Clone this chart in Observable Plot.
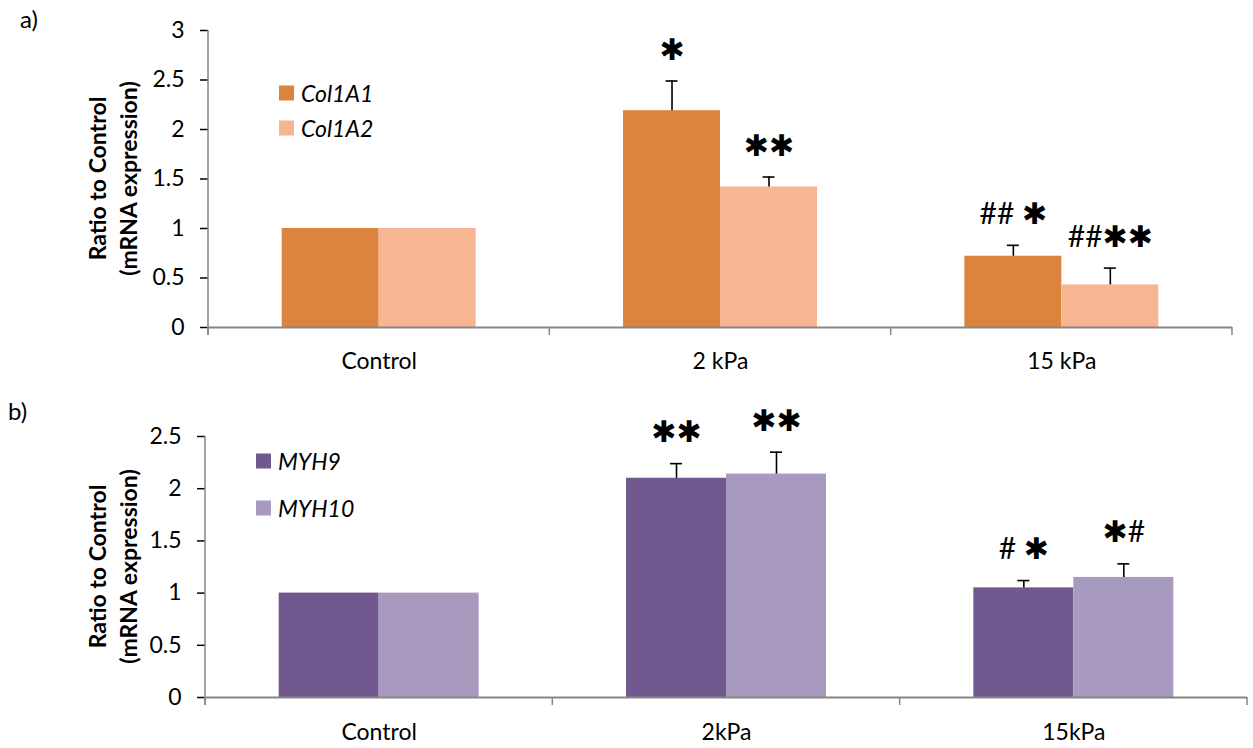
<!DOCTYPE html>
<html><head><meta charset="utf-8">
<script src="https://cdn.jsdelivr.net/npm/d3@7"></script>
<script src="https://cdn.jsdelivr.net/npm/@observablehq/plot@0.6"></script>
<style>
body{margin:0;background:#fff;}
#wrap{width:1253px;height:748px;position:relative;overflow:hidden;background:#fff}
#wrap svg{display:block}
</style></head><body><div id="wrap"></div>
<script>
// ---- Panel a data ----
const conditionsA = ["Control", "2 kPa", "15 kPa"];
const genesA = ["Col1A1", "Col1A2"];
const col1a1 = [1.00, 2.19, 0.72];
const col1a1Err = [0, 0.30, 0.11];
const col1a2 = [1.00, 1.42, 0.43];
const col1a2Err = [0, 0.10, 0.17];
const col1a1Sig = ["", "*", "## *"];
const col1a2Sig = ["", "**", "##**"];
const ticksA = [0, 0.5, 1, 1.5, 2, 2.5, 3];

// ---- Panel b data ----
const conditionsB = ["Control", "2kPa", "15kPa"];
const genesB = ["MYH9", "MYH10"];
const myh9 = [1.00, 2.10, 1.05];
const myh9Err = [0, 0.14, 0.07];
const myh10 = [1.00, 2.14, 1.15];
const myh10Err = [0, 0.21, 0.13];
const myh9Sig = ["", "**", "# *"];
const myh10Sig = ["", "**", "*#"];
const ticksB = [0, 0.5, 1, 1.5, 2, 2.5];

const yTitle = ["Ratio to Control", "(mRNA expression)"];
const FONT = "Lato, 'DejaVu Sans', sans-serif";
const AXIS_GRAY = "#868686";

function rowsOf(conds, genes, vals, errs, sigs) {
  const rows = [];
  conds.forEach((c, i) => genes.forEach((g, j) => rows.push({cond: c, gene: g, value: vals[j][i], err: errs[j][i], sig: sigs[j][i]})));
  return rows;
}

function panel(cfg) {
  const rows = rowsOf(cfg.conds, cfg.genes, cfg.vals, cfg.errs, cfg.sigs);
  const withErr = rows.filter(d => d.err > 0);
  const withSig = rows.filter(d => d.sig);
  const plot = Plot.plot({
    width: 1253, height: 374,
    marginTop: cfg.mt, marginBottom: cfg.mb, marginLeft: cfg.ml, marginRight: cfg.mr,
    style: {fontFamily: FONT, fontSize: "23px", color: "#000", background: "#fff", overflow: "visible"},
    fx: {domain: cfg.conds, padding: 0, round: false, label: null, tickSize: 0, tickPadding: cfg.fxPad},
    x: {domain: cfg.genes, paddingInner: 0, paddingOuter: cfg.po, round: false, axis: null},
    y: {domain: [0, cfg.ticks[cfg.ticks.length - 1]], ticks: cfg.ticks, tickSize: 8, tickPadding: 16,
        tickFormat: d => String(d), label: null},
    color: {domain: cfg.genes, range: cfg.colors},
    marks: [
      Plot.barY(rows, {fx: "cond", x: "gene", y: "value", fill: "gene"}),
      Plot.ruleX(withErr, {fx: "cond", x: "gene", y1: "value", y2: d => d.value + d.err, stroke: "#000", strokeWidth: 1.6}),
      Plot.tickY(withErr, {fx: "cond", x: "gene", y: d => d.value + d.err, stroke: "#000", strokeWidth: 1.6,
        insetLeft: cfg.capInset, insetRight: cfg.capInset}),
      Plot.ruleY([0], {stroke: AXIS_GRAY, strokeWidth: 2}),
      Plot.text(withSig, {fx: "cond", x: "gene", y: d => d.value + d.err, text: d => d.sig.replace(/\*/g, "\u2731"),
        dy: -31, fontSize: 30, fill: "#000", fontFamily: FONT})
    ]
  });
  const svg = d3.select(plot);
  svg.selectAll('g[aria-label="y-axis tick"]').attr("stroke", AXIS_GRAY).attr("stroke-width", 1.5);
  const fx = plot.scale("fx"), y = plot.scale("y");
  const y0 = y.apply(0), yTop = y.apply(cfg.ticks[cfg.ticks.length - 1]);
  // y axis line
  svg.append("line").attr("x1", cfg.ml).attr("x2", cfg.ml).attr("y1", yTop).attr("y2", y0 + 8)
    .attr("stroke", AXIS_GRAY).attr("stroke-width", 1.5);
  // category boundary ticks
  const bounds = cfg.conds.map(c => fx.apply(c)).concat([fx.range[1]]);
  bounds.forEach(b => svg.append("line").attr("x1", b).attr("x2", b).attr("y1", y0).attr("y2", y0 + 8)
    .attr("stroke", AXIS_GRAY).attr("stroke-width", 1.5));
  // y axis title
  const cy = (y0 + yTop) / 2;
  yTitle.forEach((t, i) => svg.append("text").attr("transform", `translate(${97 + i * 31},${cy}) rotate(-90)`)
    .attr("text-anchor", "middle").attr("dominant-baseline", "central")
    .attr("font-family", FONT).attr("font-weight", "bold").attr("font-size", 23).attr("fill", "#000").text(t));
  // panel label
  svg.append("text").attr("x", cfg.labX).attr("y", cfg.labY).attr("dominant-baseline", "central")
    .attr("text-anchor", "start")
    .attr("font-family", FONT).attr("font-size", 24).attr("fill", "#000").text(cfg.label);
  // legend
  const color = plot.scale("color");
  cfg.genes.forEach((g, i) => {
    const ly = cfg.legY + i * cfg.legStep;
    svg.append("rect").attr("x", cfg.legX).attr("y", ly - 7.5).attr("width", 15).attr("height", 15).attr("fill", color.apply(g));
    svg.append("text").attr("x", cfg.legX + 22).attr("y", ly).attr("dominant-baseline", "central")
      .attr("text-anchor", "start")
      .attr("font-family", FONT).attr("font-style", "italic").attr("font-size", 23).attr("fill", "#000").text(g);
  });
  return plot;
}

const wrap = document.getElementById("wrap");
wrap.appendChild(panel({
  conds: conditionsA, genes: genesA, vals: [col1a1, col1a2], errs: [col1a1Err, col1a2Err], sigs: [col1a1Sig, col1a2Sig],
  ticks: ticksA, colors: ["#DB843D", "#F8B591"], mt: 30, mb: 47, ml: 208, mr: 21, po: 0.76, capInset: 42.5, fxPad: 25,
  label: "a)", labX: 20, labY: 18, legX: 279, legY: 93, legStep: 35
}));
wrap.appendChild(panel({
  conds: conditionsB, genes: genesB, vals: [myh9, myh10], errs: [myh9Err, myh10Err], sigs: [myh9Sig, myh10Sig],
  ticks: ticksB, colors: ["#71588F", "#A89ABE"], mt: 62, mb: 51, ml: 205, mr: 6, po: 0.737, capInset: 44, fxPad: 26,
  label: "b)", labX: 8, labY: 36, legX: 256, legY: 87, legStep: 47
}));
</script></body></html>
